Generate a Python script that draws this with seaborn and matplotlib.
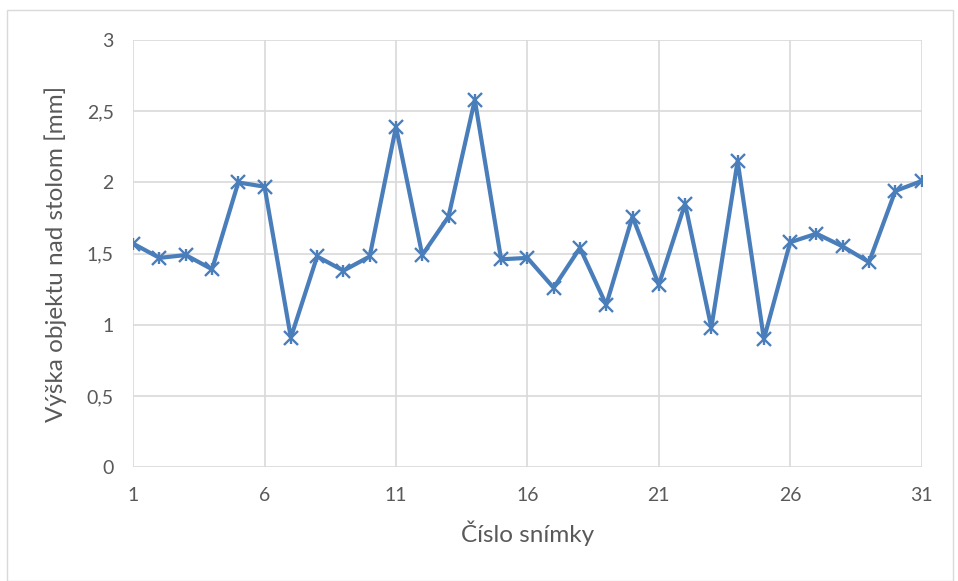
"""Výška objektu nad stolom pre jednotlivé snímky (Excel-style line chart)."""

import matplotlib
matplotlib.use("Agg")
import matplotlib.pyplot as plt
from matplotlib.patches import Rectangle
from matplotlib.ticker import FuncFormatter, MultipleLocator
import seaborn as sns

frames = list(range(1, 32))
heights = [1.57, 1.47, 1.49, 1.39, 2.00, 1.97, 0.91, 1.48, 1.38, 1.48,
           2.39, 1.49, 1.76, 2.58, 1.46, 1.47, 1.26, 1.54, 1.14, 1.76,
           1.28, 1.85, 0.98, 2.15, 0.90, 1.58, 1.64, 1.55, 1.44, 1.94,
           2.01]
x_ticks = [1, 6, 11, 16, 21, 26, 31]

LINE_COLOR = "#4A7EBB"
GRID_COLOR = "#D9D9D9"
TEXT_COLOR = "#595959"

sns.set_theme(style="white")
plt.rcParams["font.family"] = ["Lato", "DejaVu Sans"]

fig = plt.figure(figsize=(9.58, 5.81), dpi=100)
ax = fig.add_axes([0.139, 0.196, 0.823, 0.735])

sns.lineplot(x=frames, y=heights, ax=ax, color=LINE_COLOR, linewidth=3.0,
             marker="x", markersize=10, markeredgewidth=1.7,
             markeredgecolor=LINE_COLOR, zorder=3)
sns.scatterplot(x=frames, y=heights, ax=ax, marker="|", s=70,
                color=LINE_COLOR, linewidth=1.7, zorder=4)

ax.set_xlim(1, 31)
ax.set_ylim(0, 3)
ax.set_xticks(x_ticks)
ax.yaxis.set_major_locator(MultipleLocator(0.5))
ax.yaxis.set_major_formatter(
    FuncFormatter(lambda v, _: f"{v:g}".replace(".", ",")))

ax.grid(True, color=GRID_COLOR, linewidth=1.2)
ax.set_axisbelow(True)
for side in ["top", "right", "left", "bottom"]:
    ax.spines[side].set_visible(False)

ax.tick_params(axis="x", length=0, labelsize=14, colors=TEXT_COLOR, pad=14)
ax.tick_params(axis="y", length=0, labelsize=14, colors=TEXT_COLOR, pad=14)
ax.set_xlabel("Číslo snímky", fontsize=17.5, color=TEXT_COLOR, labelpad=12)
ax.set_ylabel("Výška objektu nad stolom [mm]", fontsize=17.5,
              color=TEXT_COLOR, labelpad=14)

# light chart border as in the Excel export
fig.patches.append(Rectangle((7 / 958, 0), 946 / 958, 1 - 10 / 581,
                             transform=fig.transFigure, fill=False,
                             edgecolor=GRID_COLOR, linewidth=1.0))

fig.savefig("out.png", dpi=100)
